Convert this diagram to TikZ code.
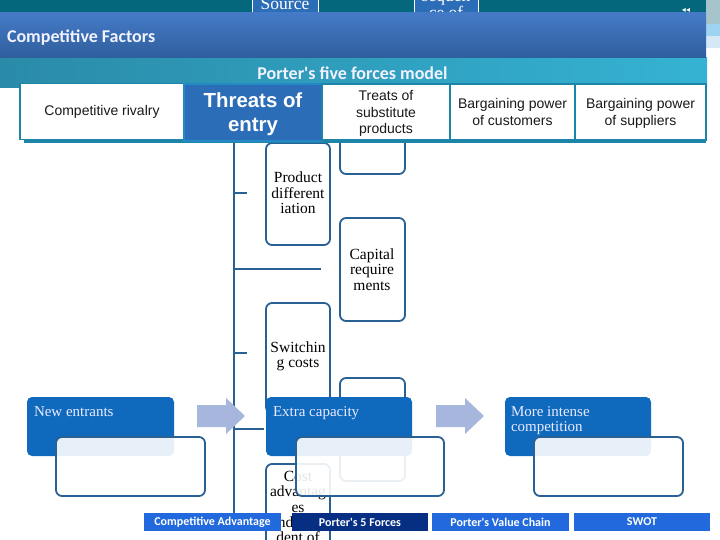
\documentclass[tikz,border=0pt]{standalone}
\usepackage{fontspec}
\setmainfont{Liberation Serif}
\setsansfont{Liberation Sans}
\newfontfamily\calfont{Carlito}
\newfontfamily\symfont{DejaVu Sans}
\definecolor{topteal}{HTML}{04677C}
\definecolor{barA}{HTML}{447AC6}
\definecolor{barB}{HTML}{2F5E9C}
\definecolor{tealL}{HTML}{2A8BA8}
\definecolor{tealR}{HTML}{35B2D3}
\definecolor{cellline}{HTML}{1C85A8}
\definecolor{cellblue}{HTML}{2C6DB7}
\definecolor{boxline}{HTML}{2A6194}
\definecolor{blockblue}{HTML}{0F69BD}
\definecolor{arrowblue}{HTML}{A6B6DC}
\definecolor{navblue}{HTML}{2169DD}
\definecolor{navdark}{HTML}{062E83}
\definecolor{stripA}{HTML}{A6C4CC}
\definecolor{stripB}{HTML}{9FD3F2}
\definecolor{stripC}{HTML}{D4E8F6}
\tikzset{
  x=1pt,y=-1pt,
  every node/.style={inner sep=0pt,outer sep=0pt},
  cell/.style={draw=cellline,line width=1.8pt,fill=white,font=\sffamily\fontsize{14}{16.5}\selectfont,text=black!90,align=center,anchor=north west},
  roundbox/.style={draw=boxline,line width=1.8pt,rounded corners=6pt,fill=white,anchor=north west},
  boxtext/.style={font=\fontsize{15.5}{15.4}\selectfont,text=black,align=center},
  bluebox/.style={fill=blockblue,rounded corners=5pt,anchor=north west},
  bluetext/.style={font=\fontsize{15}{15.3}\selectfont,text=white!92!blue,align=left,anchor=north west},
  palebox/.style={draw=boxline,line width=1.8pt,rounded corners=6pt,fill=white,fill opacity=0.9,draw opacity=1,anchor=north west},
  flowarrow/.style={fill=arrowblue},
  navitem/.style={fill=navblue,text=white,font=\calfont\bfseries\fontsize{12}{12}\selectfont,anchor=north west,align=center},
  tick/.style={draw=boxline,line width=1.8pt},
  topbox/.style={fill=cellblue,anchor=north west}
}
\begin{document}
\begin{tikzpicture}
\useasboundingbox (0,0) rectangle (720,540);
% background bands
\fill[topteal] (0,0) rectangle (706,14);
\fill[stripA] (706,0) rectangle (720,24);
\fill[stripB] (706,24) rectangle (720,36);
\fill[stripC] (706,36) rectangle (720,48);
\node[topbox,minimum width=66pt,minimum height=16pt] (srcbox) at (252,-2) {};
\draw[white,line width=1pt] (252.5,0) -- (252.5,13) (318,0) -- (318,13);
\node[font=\fontsize{17.5}{17}\selectfont,text=white] (srctxt) at (285,4) {Source};
\node[topbox,minimum width=64pt,minimum height=16pt] (seqbox) at (414,-2) {};
\draw[white,line width=1pt] (414.5,0) -- (414.5,13) (478,0) -- (478,13);
\node[font=\fontsize{17.5}{15}\selectfont,text=white,align=center] (seqtxt) at (446,6) {sequen\\ ce of};
% box hidden behind the header
\node[roundbox,minimum width=65pt,minimum height=74pt] (sub1) at (340,100) {};
% title
\shade[left color=tealL,right color=tealR] (0,58) rectangle (707,88);
\shade[top color=barA,bottom color=barB] (0,13) rectangle (706,58);
\node[font=\symfont\fontsize{8}{8}\selectfont,text=white] (pagemark) at (686,10.5) {◂◂};
\node[font=\calfont\bfseries\fontsize{18}{18}\selectfont,text=white!95!blue,anchor=west] (title) at (7,37.5) {Competitive Factors};
\node[font=\calfont\bfseries\fontsize{18}{18}\selectfont,text=white!95!blue] (subtitle) at (352.5,73) {Porter's five forces model};
% org chart
\draw[tick,line width=2pt] (234,143) -- (234,513);
\draw[tick] (234,193) -- (247,193);
\draw[tick,line width=2.4pt] (234,269) -- (321,269);
\draw[tick] (234,353) -- (247,353);
\draw[tick,line width=2.4pt] (234,429) -- (264,429);
\node[roundbox,minimum width=64pt,minimum height=102pt] (prod) at (266,143) {};
\node[boxtext] (prodt) at (298,193) {Product\\different\\iation};
\node[roundbox,minimum width=65pt,minimum height=103pt] (capi) at (340,218) {};
\node[boxtext] (capit) at (372,269.5) {Capital\\require\\ments};
\node[roundbox,minimum width=64pt,minimum height=110pt] (swit) at (266,303) {};
\node[boxtext] (swito) at (298,356) {Switchin\\g costs};
\node[roundbox,minimum width=65pt,minimum height=103pt] (sub4) at (340,378) {};
\node[roundbox,minimum width=64pt,minimum height=110pt] (cost) at (266,464) {};
\node[boxtext,anchor=north] (costt) at (298,471) {Cost\\advantag\\es\\indepen\\dent of};
% header cells
\fill[cellline] (24,139) rectangle (706,143.5);
\node[cell,minimum width=164pt,minimum height=56pt] (c1) at (20,83.5) {Competitive rivalry};
\node[cell,fill=cellblue,draw=cellblue!80!cyan,text=white,minimum width=138pt,minimum height=57pt,font=\sffamily\bfseries\fontsize{20.4}{24}\selectfont] (c2) at (184,84) {Threats of\\\smash{entry}};
\node[cell,minimum width=128pt,minimum height=56pt] (c3) at (322,84) {Treats of\\substitute\\\smash{products}};
\node[cell,minimum width=125pt,minimum height=56pt] (c4) at (450,84) {Bargaining power\\of customers};
\node[cell,minimum width=131pt,minimum height=56pt] (c5) at (575,84) {Bargaining power\\\smash{of suppliers}};
% flow row
\node[bluebox,minimum width=147pt,minimum height=59pt] (b1) at (27,397) {};
\node[bluetext] (b1t) at (34,406.5) {New entrants};
\node[palebox,minimum width=149pt,minimum height=59pt] (p1) at (56,437) {};
\fill[flowarrow] (197,405) -- (226,405) -- (226,398) -- (245,416) -- (226,434) -- (226,427) -- (197,427) -- cycle;
\node[bluebox,minimum width=146pt,minimum height=59pt] (b2) at (266,397) {};
\node[bluetext] (b2t) at (273,406.5) {Extra capacity};
\node[palebox,minimum width=148pt,minimum height=59pt] (p2) at (296,437) {};
\fill[flowarrow] (436,405) -- (465,405) -- (465,398) -- (484,416) -- (465,434) -- (465,427) -- (436,427) -- cycle;
\node[bluebox,minimum width=146pt,minimum height=59pt] (b3) at (505,397) {};
\node[bluetext] (b3t) at (511,406.5) {More intense\\competition};
\node[palebox,minimum width=149pt,minimum height=59pt] (p3) at (534,437) {};
% nav
\node[navitem,minimum width=137pt,minimum height=18pt] (n1) at (144,513) {Competitive Advantage};
\node[navitem,fill=navdark,minimum width=136pt,minimum height=18pt] (n2) at (292,513) {Porter's 5 Forces};
\node[navitem,minimum width=137pt,minimum height=18pt] (n3) at (432,513) {Porter's Value Chain};
\node[navitem,minimum width=136pt,minimum height=18pt] (n4) at (574,513) {SWOT};
\end{tikzpicture}
\end{document}
